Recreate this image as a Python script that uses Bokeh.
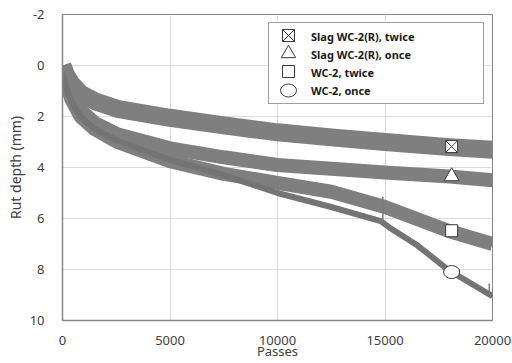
from bokeh.plotting import figure
from bokeh.models import Range1d, FixedTicker, Legend, LegendItem
from bokeh.embed import file_html
from bokeh.resources import INLINE

# ---- data ----
passes = [0, 150, 400, 840, 1500, 2550, 5000, 7500, 10000, 12500, 15000, 18000, 20000]
slag_twice = [0.0, 0.35, 0.7, 1.1, 1.4, 1.7, 2.05, 2.35, 2.62, 2.82, 3.0, 3.2, 3.3]
slag_once = [0.0, 0.5, 1.1, 1.75, 2.25, 2.7, 3.25, 3.6, 3.9, 4.05, 4.2, 4.35, 4.5]
wc2_twice = [0.0, 0.6, 1.3, 2.0, 2.5, 3.0, 3.75, 4.25, 4.6, 4.95, 5.55, 6.5, 7.0]

passes_once = [0, 150, 400, 840, 1500, 2550, 5000, 7500, 10000, 12500, 14800, 15200, 16500, 18000, 20000]
wc2_once = [0.3, 0.8, 1.4, 2.0, 2.5, 2.95, 3.7, 4.3, 5.0, 5.55, 6.1, 6.35, 7.05, 8.05, 9.05]

spike_x = [[14900, 14900], [19850, 19850]]
spike_y = [[5.15, 6.1], [8.55, 9.0]]

marker_x = [18100]
marker_slag_twice = [3.18]
marker_slag_once = [4.35]
marker_wc2_twice = [6.48]
marker_wc2_once = [8.1]

labels = ["Slag WC-2(R), twice", "Slag WC-2(R), once", "WC-2, twice", "WC-2, once"]
x_ticks = [0, 5000, 10000, 15000, 20000]
y_ticks = [-2, 0, 2, 4, 6, 8, 10]

FONT = "Noto Sans"
BAND = "#7f7f7f"

p = figure(width=512, height=363, output_backend="svg", toolbar_location=None, title=None,
           x_range=Range1d(0, 20000), y_range=Range1d(10, -2),
           min_border_left=62, min_border_right=20, min_border_top=14, min_border_bottom=43)

p.background_fill_color = "white"
p.border_fill_color = "white"
p.outline_line_color = "#868686"
p.outline_line_width = 1

for ax in (p.xaxis[0], p.yaxis[0]):
    ax.major_tick_line_color = None
    ax.minor_tick_line_color = None
    ax.axis_line_color = "#868686"
    ax.axis_line_width = 1.5
    ax.major_label_text_font = FONT
    ax.major_label_text_font_size = "13px"
    ax.major_label_text_color = "#404040"
    ax.axis_label_text_font = FONT
    ax.axis_label_text_font_style = "normal"
    ax.axis_label_text_color = "#404040"

p.xaxis.ticker = FixedTicker(ticks=x_ticks)
p.yaxis.ticker = FixedTicker(ticks=y_ticks)
p.yaxis.major_label_overrides = {t: str(t) for t in y_ticks}
p.xaxis.axis_label = "Passes"
p.yaxis.axis_label = "Rut depth (mm)"
p.xaxis.axis_label_text_font_size = "13px"
p.yaxis.axis_label_text_font_size = "14px"
p.xaxis.major_label_standoff = 9
p.yaxis.major_label_standoff = 12
p.xaxis.axis_label_standoff = -6
p.yaxis.axis_label_standoff = 2

p.xgrid.ticker = FixedTicker(ticks=x_ticks)
p.ygrid.ticker = FixedTicker(ticks=y_ticks)
p.grid.grid_line_color = "#dcdcdc"
p.grid.grid_line_width = 1

# bands
p.line(passes, wc2_twice, line_color=BAND, line_width=14, line_join="round")
p.line(passes, slag_once, line_color=BAND, line_width=14, line_join="round")
p.line(passes, slag_twice, line_color=BAND, line_width=18, line_join="round")
p.line(passes_once, wc2_once, line_color="#747474", line_width=6, line_join="round")
p.multi_line(spike_x, spike_y, line_color="#7a7a7a", line_width=1.5)

# markers
mk = dict(fill_color="white", line_color="#3a3a3a", line_width=1)
r1 = p.scatter(marker_x, marker_slag_twice, marker="square_x", size=12, **mk)
r2 = p.scatter(marker_x, marker_slag_once, marker="triangle", size=15, **mk)
r3 = p.scatter(marker_x, marker_wc2_twice, marker="square", size=12, **mk)
r4 = p.ellipse(marker_x, marker_wc2_once, width=16, height=13, width_units="screen",
               height_units="screen", **mk)
renderers = [r1, r2, r3, r4]

# invisible twins: the legend box only shows the texts
hidden = dict(fill_alpha=0, line_alpha=0)
h1 = p.scatter(marker_x, marker_slag_twice, marker="square_x", size=12, **hidden)
h2 = p.scatter(marker_x, marker_slag_once, marker="triangle", size=15, **hidden)
h3 = p.scatter(marker_x, marker_wc2_twice, marker="square", size=12, **hidden)
h4 = p.scatter(marker_x, marker_wc2_once, marker="circle", size=14, **hidden)
hiddens = [h1, h2, h3, h4]

box = Legend(items=[LegendItem(label=lab, renderers=[r]) for lab, r in zip(labels, hiddens)],
             location="top_right", margin=8, padding=4, spacing=0,
             glyph_width=28, glyph_height=18, label_height=18, label_width=168,
             label_standoff=10,
             label_text_font=FONT, label_text_font_size="11px",
             label_text_font_style="bold", label_text_color="#1a1a1a",
             border_line_color="#404040", border_line_width=1,
             background_fill_color="white", background_fill_alpha=1)
p.add_layout(box)

# larger legend symbols laid over the rows of the box
row_centers = [285, 267, 249, 230]   # px above the frame bottom
symbol_sizes = [30, 36, 30, 20]
for r, yc, gs in zip(renderers, row_centers, symbol_sizes):
    lg = Legend(items=[LegendItem(label=" ", renderers=[r])],
                location=(226 - gs / 2, yc - gs / 2), margin=0, padding=0, spacing=0,
                glyph_width=gs, glyph_height=gs, label_height=gs, label_width=0,
                label_standoff=0, label_text_font_size="1px",
                border_line_color=None, background_fill_alpha=0)
    p.add_layout(lg)

open("out.html", "w").write(file_html(p, INLINE))
